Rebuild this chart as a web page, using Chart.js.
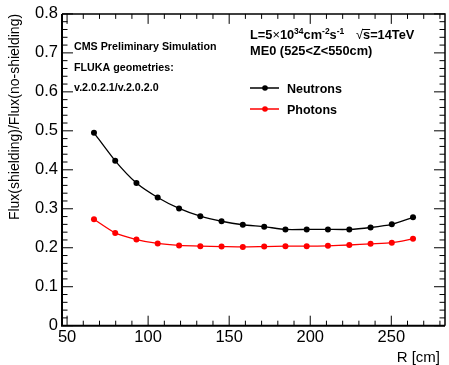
<!DOCTYPE html>
<html>
<head>
<meta charset="utf-8">
<script src="https://cdn.jsdelivr.net/npm/chart.js@4"></script>
<style>
html, body { margin: 0; padding: 0; background: #fff; }
canvas { display: block; }
</style>
</head>
<body>
<canvas id="c" width="449" height="365"></canvas>
<script>
// Flux ratio with / without shielding, ME0 region

const R_CM = [66.6, 79.7, 92.8, 105.9, 119.1, 132.2, 145.3, 158.4,
              171.6, 184.7, 197.8, 210.9, 224.1, 237.2, 250.3, 263.4];
const NEUTRONS = [0.495, 0.423, 0.366, 0.329, 0.301, 0.281, 0.268, 0.259,
                  0.254, 0.247, 0.247, 0.247, 0.247, 0.252, 0.260, 0.278];
const PHOTONS = [0.273, 0.238, 0.221, 0.211, 0.206, 0.204, 0.203, 0.202,
                 0.203, 0.204, 0.204, 0.205, 0.207, 0.210, 0.213, 0.223];

const SERIES = ["Neutrons", "Photons"];
const COLORS = ["#000000", "#ff0000"];
const INFO_LEFT = ["CMS Preliminary Simulation", "FLUKA geometries:", "v.2.0.2.1/v.2.0.2.0"];
const Y_TITLE = "Flux(shielding)/Flux(no-shielding)";
const X_TITLE = "R [cm]";

const FONT = "'Liberation Sans', Arial, Helvetica, sans-serif";

function toPoints(ys) {
    return R_CM.map((r, i) => ({ x: r, y: ys[i] }));
}

// draws text pieces in a row, some raised as superscripts
function drawRuns(ctx, x, y, runs) {
    runs.forEach(run => {
        ctx.font = run.font;
        ctx.fillText(run.t, x, y - (run.up || 0));
        x += ctx.measureText(run.t).width;
    });
    return x;
}

const rootFrame = {
    id: "rootFrame",
    afterDatasetsDraw(chart) {
        const ctx = chart.ctx;
        const a = chart.chartArea;
        const xs = chart.scales.x;
        const ys = chart.scales.y;
        ctx.save();
        ctx.strokeStyle = "#000";
        ctx.lineWidth = 1;

        // y ticks, both sides, pointing in
        const yMaj = ys.ticks.map(t => t.value);
        ctx.beginPath();
        yMaj.forEach((v, i) => {
            const p = ys.getPixelForValue(v);
            ctx.moveTo(a.left, p); ctx.lineTo(a.left + 11, p);
            ctx.moveTo(a.right, p); ctx.lineTo(a.right - 11, p);
            if (i < yMaj.length - 1) {
                const d = (yMaj[i + 1] - v) / 5;
                for (let k = 1; k < 5; k++) {
                    const q = ys.getPixelForValue(v + k * d);
                    ctx.moveTo(a.left, q); ctx.lineTo(a.left + 5.5, q);
                    ctx.moveTo(a.right, q); ctx.lineTo(a.right - 5.5, q);
                }
            }
        });
        // x ticks, bottom and top
        const xMaj = xs.ticks.map(t => t.value);
        const step = (xMaj[1] - xMaj[0]) / 5;
        xMaj.forEach(v => {
            const p = xs.getPixelForValue(v);
            ctx.moveTo(p, a.bottom); ctx.lineTo(p, a.bottom - 10);
            ctx.moveTo(p, a.top); ctx.lineTo(p, a.top + 10);
        });
        for (let v = xMaj[0] + step; v < xs.max; v += step) {
            if (xMaj.some(m => Math.abs(m - v) < 1e-6)) continue;
            const p = xs.getPixelForValue(v);
            ctx.moveTo(p, a.bottom); ctx.lineTo(p, a.bottom - 5);
            ctx.moveTo(p, a.top); ctx.lineTo(p, a.top + 5);
        }
        ctx.stroke();

        // frame
        ctx.lineWidth = 2;
        ctx.beginPath();
        ctx.moveTo(a.left, a.top); ctx.lineTo(a.left, a.bottom); ctx.lineTo(a.right, a.bottom);
        ctx.stroke();
        ctx.lineWidth = 1.5;
        ctx.beginPath();
        ctx.moveTo(a.left, a.top); ctx.lineTo(a.right, a.top); ctx.lineTo(a.right, a.bottom);
        ctx.stroke();

        // x title
        ctx.fillStyle = "#000";
        ctx.font = "15px " + FONT;
        ctx.textAlign = "right";
        ctx.textBaseline = "alphabetic";
        ctx.fillText(X_TITLE, 440, 362);

        // info text, left block
        ctx.textAlign = "left";
        ctx.font = "bold 10.7px " + FONT;
        INFO_LEFT.forEach((s, i) => ctx.fillText(s, 74, 50 + i * 20.5));

        // info text, right block
        const big = "bold 12.8px " + FONT;
        const sup = "bold 8.5px " + FONT;
        drawRuns(ctx, 250, 39, [
            { t: "L=5", font: big }, { t: "×", font: "12.8px " + FONT }, { t: "10", font: big },
            { t: "34", font: sup, up: 5 }, { t: "cm", font: big },
            { t: "-2", font: sup, up: 5 }, { t: "s", font: big }, { t: "-1", font: sup, up: 5 }
        ]);
        let sx = drawRuns(ctx, 356, 39, [{ t: "√", font: "12.8px " + FONT }]);
        ctx.font = big;
        const sw = ctx.measureText("s").width;
        ctx.lineWidth = 1;
        ctx.beginPath();
        ctx.moveTo(sx - 1, 29.5); ctx.lineTo(sx + sw, 29.5);
        ctx.stroke();
        drawRuns(ctx, sx, 39, [{ t: "s=14TeV", font: big }]);
        ctx.font = big;
        ctx.fillText("ME0 (525<Z<550cm)", 250, 55);

        // legend
        ctx.font = "bold 12.5px " + FONT;
        chart.data.datasets.forEach((ds, i) => {
            const ly = 88 + i * 21;
            ctx.strokeStyle = ds.borderColor;
            ctx.fillStyle = ds.borderColor;
            ctx.lineWidth = 1.5;
            ctx.beginPath();
            ctx.moveTo(250, ly); ctx.lineTo(279, ly);
            ctx.stroke();
            ctx.beginPath();
            ctx.arc(265, ly, 2.8, 0, Math.PI * 2);
            ctx.fill();
            ctx.fillStyle = "#000";
            ctx.fillText(ds.label, 287, ly + 4.5);
        });
        ctx.restore();
    }
};

const tickFont = { family: FONT, size: 16.5 };

new Chart(document.getElementById("c"), {
    type: "line",
    data: {
        datasets: [
            {
                label: SERIES[0], data: toPoints(NEUTRONS),
                borderColor: COLORS[0], backgroundColor: COLORS[0],
                borderWidth: 1.3, pointRadius: 3, pointBorderWidth: 0, tension: 0.2
            },
            {
                label: SERIES[1], data: toPoints(PHOTONS),
                borderColor: COLORS[1], backgroundColor: COLORS[1],
                borderWidth: 1.3, pointRadius: 3, pointBorderWidth: 0, tension: 0.2
            }
        ]
    },
    options: {
        responsive: false,
        animation: false,
        layout: { padding: { top: 12.5, right: 2.5, left: 0, bottom: 0 } },
        plugins: { legend: { display: false }, tooltip: { enabled: false } },
        scales: {
            x: {
                type: "linear",
                min: 46.875, max: 283.125,
                grid: { display: false, drawTicks: false },
                border: { display: false },
                ticks: { stepSize: 50, includeBounds: false, maxRotation: 0, color: "#000", font: tickFont, padding: 2 },
                afterFit: s => { s.height = 39.3; }
            },
            y: {
                min: 0, max: 0.8,
                grid: { display: false, drawTicks: false },
                border: { display: false },
                ticks: {
                    stepSize: 0.1, color: "#000", font: tickFont, padding: 4,
                    callback: v => (Math.abs(v) < 1e-9 ? "0" : v.toFixed(1))
                },
                title: {
                    display: true, text: Y_TITLE, align: "end", color: "#000",
                    font: { family: FONT, size: 14 }, padding: { top: 6.5, bottom: 0 }
                },
                afterFit: s => { s.width = 62; }
            }
        }
    },
    plugins: [rootFrame]
});
</script>
</body>
</html>
